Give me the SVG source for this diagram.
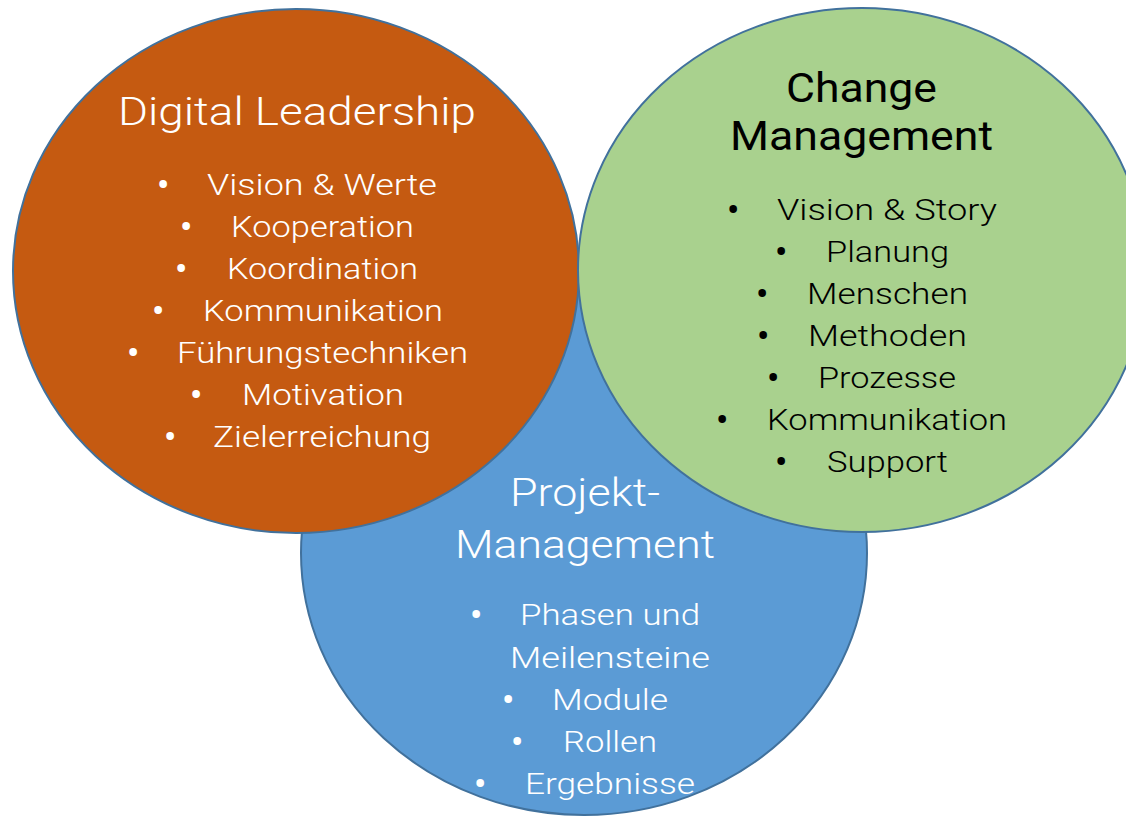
<svg xmlns="http://www.w3.org/2000/svg" width="1126" height="817" viewBox="0 0 1126 817">
<style>
.c{stroke:#41719C;stroke-width:2}
text{font-family:Roboto,"Liberation Sans",sans-serif;font-weight:300}
.w{fill:#FFFFFF}
.k{fill:#000000}
.t{font-size:38px}
.l{font-size:30px}
.b{font-size:35px;font-weight:500}
.gt{font-size:40px;font-weight:400}
</style>
<rect width="1126" height="817" fill="#FFFFFF"/>
<g id="projekt-management">
<ellipse class="c" cx="584" cy="553" rx="283" ry="262" fill="#5B9BD5"/>
</g>
<g id="digital-leadership">
<ellipse class="c" cx="296" cy="271" rx="283" ry="262" fill="#C55A11"/>
</g>
<g id="change-management">
<ellipse class="c" cx="862" cy="270" rx="284" ry="262" fill="#A9D18E"/>
</g>
<g id="digital-leadership-text" class="w">
<text class="t" x="118" y="125" textLength="358" lengthAdjust="spacingAndGlyphs">Digital Leadership</text>
<g class="l">
<text class="b" x="157" y="197">•</text><text x="207" y="195" textLength="230" lengthAdjust="spacingAndGlyphs">Vision &amp; Werte</text>
<text class="b" x="180" y="239">•</text><text x="231" y="237" textLength="183" lengthAdjust="spacingAndGlyphs">Kooperation</text>
<text class="b" x="175" y="281">•</text><text x="227" y="279" textLength="191" lengthAdjust="spacingAndGlyphs">Koordination</text>
<text class="b" x="152" y="323">•</text><text x="203" y="321" textLength="240" lengthAdjust="spacingAndGlyphs">Kommunikation</text>
<text class="b" x="127" y="365">•</text><text x="177" y="363" textLength="291" lengthAdjust="spacingAndGlyphs">Führungstechniken</text>
<text class="b" x="190" y="407">•</text><text x="242" y="405" textLength="162" lengthAdjust="spacingAndGlyphs">Motivation</text>
<text class="b" x="164" y="449">•</text><text x="213" y="447" textLength="218" lengthAdjust="spacingAndGlyphs">Zielerreichung</text>
</g>
</g>
<g id="change-management-text" class="k">
<text class="gt" x="786" y="102" textLength="151" lengthAdjust="spacingAndGlyphs">Change</text>
<text class="gt" x="730" y="150" textLength="263" lengthAdjust="spacingAndGlyphs">Management</text>
<g class="l">
<text class="b" x="727" y="222">•</text><text x="777" y="220" textLength="220" lengthAdjust="spacingAndGlyphs">Vision &amp; Story</text>
<text class="b" x="775" y="264">•</text><text x="826" y="262" textLength="123" lengthAdjust="spacingAndGlyphs">Planung</text>
<text class="b" x="756" y="306">•</text><text x="807" y="304" textLength="161" lengthAdjust="spacingAndGlyphs">Menschen</text>
<text class="b" x="757" y="348">•</text><text x="808" y="346" textLength="159" lengthAdjust="spacingAndGlyphs">Methoden</text>
<text class="b" x="767" y="390">•</text><text x="818" y="388" textLength="138" lengthAdjust="spacingAndGlyphs">Prozesse</text>
<text class="b" x="716" y="432">•</text><text x="767" y="430" textLength="240" lengthAdjust="spacingAndGlyphs">Kommunikation</text>
<text class="b" x="775" y="474">•</text><text x="827" y="472" textLength="121" lengthAdjust="spacingAndGlyphs">Support</text>
</g>
</g>
<g id="projekt-management-text" class="w">
<text class="t" x="510" y="506" textLength="150" lengthAdjust="spacingAndGlyphs">Projekt-</text>
<text class="t" x="455" y="558" textLength="260" lengthAdjust="spacingAndGlyphs">Management</text>
<g class="l">
<text class="b" x="470" y="627">•</text><text x="520" y="625" textLength="180" lengthAdjust="spacingAndGlyphs">Phasen und</text>
<text x="510" y="668" textLength="200" lengthAdjust="spacingAndGlyphs">Meilensteine</text>
<text class="b" x="502" y="712">•</text><text x="552" y="710" textLength="116" lengthAdjust="spacingAndGlyphs">Module</text>
<text class="b" x="511" y="754">•</text><text x="563" y="752" textLength="94" lengthAdjust="spacingAndGlyphs">Rollen</text>
<text class="b" x="474" y="796">•</text><text x="525" y="794" textLength="170" lengthAdjust="spacingAndGlyphs">Ergebnisse</text>
</g>
</g>
<g id="connectors"/>
</svg>
